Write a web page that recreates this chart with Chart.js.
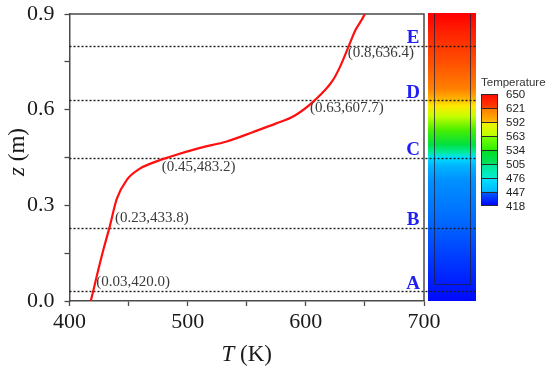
<!DOCTYPE html>
<html>
<head>
<meta charset="utf-8">
<script src="https://cdn.jsdelivr.net/npm/chart.js@4/dist/chart.umd.min.js"></script>
<style>
  html, body { margin: 0; padding: 0; background: #ffffff; }
  #wrap { width: 550px; height: 366px; position: relative; }
</style>
</head>
<body>
<div id="wrap"><canvas id="c" width="550" height="366"></canvas></div>
<script>
// ---- data ----
const heightZ = [0, 0.03, 0.08, 0.16, 0.23, 0.32, 0.38, 0.415, 0.43, 0.45, 0.48, 0.50, 0.53, 0.557, 0.58, 0.63, 0.69, 0.735, 0.80, 0.85, 0.88, 0.90];
const tempT   = [418, 420.0, 423.2, 428.6, 433.8, 440, 448.5, 459.5, 468, 483.2, 510.5, 533, 555.5, 575, 590, 607.7, 622.5, 629, 636.4, 642, 647, 650];

const markZ     = [0.03, 0.23, 0.45, 0.63, 0.8];
const markT     = [420.0, 433.8, 483.2, 607.7, 636.4];
const markNames = ['A', 'B', 'C', 'D', 'E'];

const xTicks      = [400, 450, 500, 550, 600, 650, 700];
const xTickLabels = ['400', '', '500', '', '600', '', '700'];
const yTicks      = [0, 0.15, 0.3, 0.45, 0.6, 0.75, 0.9];
const yTickLabels = ['0.0', '', '0.3', '', '0.6', '', '0.9'];

const legendTitle  = 'Temperature';
const legendLabels = ['650', '621', '592', '563', '534', '505', '476', '447', '418'];

const xTitleItalic = 'T', xTitleRest = ' (K)';
const yTitleItalic = 'z', yTitleRest = ' (m)';

// ---- styling (not data) ----
const SERIF = '"Liberation Serif", "Times New Roman", serif';
const SANS  = '"Liberation Sans", Arial, sans-serif';
// offsets of the coordinate notes from their curve point (px)
const noteOffsets = [[3, -9], [5.5, -10], [-6, 10], [-5, 8], [-1, 7.5]];

const barStops = [
  [0.00, '#ff0000'], [0.06, '#ff2000'], [0.17, '#ff5000'], [0.26, '#ff8000'],
  [0.29, '#ffaa00'], [0.32, '#ffe800'], [0.355, '#c8ff00'], [0.405, '#48ee00'],
  [0.455, '#00e040'], [0.483, '#00eaa0'], [0.50, '#00e0ff'], [0.53, '#00b4ff'],
  [0.58, '#0090ff'], [0.70, '#0070ff'], [0.86, '#0038ff'], [1.00, '#0008ff']
];
const swatchStops = [
  [0.000, '#ff0a00'], [0.120, '#ff3c00'], [0.125, '#ff7a00'], [0.245, '#ffb400'],
  [0.250, '#f4f000'], [0.370, '#c0ff00'], [0.375, '#80ff00'], [0.495, '#30f000'],
  [0.500, '#00e020'], [0.620, '#00e060'], [0.625, '#00e890'], [0.745, '#00ecd0'],
  [0.750, '#00e4ff'], [0.870, '#00b8ff'], [0.875, '#0060ff'], [1.000, '#0000ff']
];

const deco = {
  id: 'deco',
  beforeDatasetsDraw(chart) {
    const ctx = chart.ctx, a = chart.chartArea;
    const ys = chart.scales.y;
    const top = ys.getPixelForValue(0.9), bot = ys.getPixelForValue(0);
    const bx0 = a.right + 4, bx1 = a.right + 52;
    ctx.save();
    // colour bar
    const g = ctx.createLinearGradient(0, top, 0, bot);
    barStops.forEach(s => g.addColorStop(s[0], s[1]));
    ctx.fillStyle = g;
    ctx.fillRect(bx0, top - 1, bx1 - bx0, bot - top + 1);
    // inner frame in the bar
    ctx.strokeStyle = 'rgba(30,30,60,0.75)';
    ctx.lineWidth = 1;
    ctx.beginPath();
    ctx.moveTo(bx0 + 6.5, top); ctx.lineTo(bx0 + 6.5, bot - 16.5);
    ctx.lineTo(bx1 - 5.5, bot - 16.5); ctx.lineTo(bx1 - 5.5, top);
    ctx.stroke();
    // dotted level lines
    ctx.strokeStyle = '#1a1a1a';
    ctx.lineWidth = 1.4;
    ctx.setLineDash([2, 2]);
    markZ.forEach(z => {
      const y = Math.round(ys.getPixelForValue(z)) + 0.5;
      ctx.beginPath(); ctx.moveTo(a.left, y); ctx.lineTo(bx1, y); ctx.stroke();
    });
    ctx.setLineDash([]);
    // frame top and right
    ctx.strokeStyle = '#4a4a4a';
    ctx.lineWidth = 1.5;
    ctx.beginPath();
    ctx.moveTo(a.left, a.top); ctx.lineTo(a.right, a.top); ctx.lineTo(a.right, a.bottom);
    ctx.stroke();
    ctx.restore();
  },
  afterDraw(chart) {
    const ctx = chart.ctx, a = chart.chartArea;
    const xs = chart.scales.x, ys = chart.scales.y;
    ctx.save();
    // level letters
    ctx.fillStyle = '#2020f0';
    ctx.font = 'bold 19px ' + SERIF;
    ctx.textAlign = 'center';
    ctx.textBaseline = 'alphabetic';
    markZ.forEach((z, i) => {
      ctx.fillText(markNames[i], a.right - 11, ys.getPixelForValue(z) - 2.5);
    });
    // coordinate notes
    ctx.fillStyle = '#3a3a3a';
    ctx.font = '15px ' + SERIF;
    ctx.textAlign = 'left';
    ctx.textBaseline = 'middle';
    markZ.forEach((z, i) => {
      const px = xs.getPixelForValue(markT[i]), py = ys.getPixelForValue(z);
      const txt = '(' + String(z) + ',' + markT[i].toFixed(1) + ')';
      ctx.fillText(txt, px + noteOffsets[i][0], py + noteOffsets[i][1]);
    });
    // axis titles
    ctx.fillStyle = '#1a1a1a';
    ctx.textBaseline = 'middle';
    const fI = 'italic 23px ' + SERIF, fN = '23px ' + SERIF;
    ctx.font = fI; const wxi = ctx.measureText(xTitleItalic).width;
    ctx.font = fN; const wxr = ctx.measureText(xTitleRest).width;
    let cx = (a.left + a.right) / 2 - (wxi + wxr) / 2;
    ctx.textAlign = 'left';
    ctx.font = fI; ctx.fillText(xTitleItalic, cx, 355);
    ctx.font = fN; ctx.fillText(xTitleRest, cx + wxi, 355);
    ctx.font = fI; const wyi = ctx.measureText(yTitleItalic).width;
    ctx.font = fN; const wyr = ctx.measureText(yTitleRest).width;
    ctx.translate(18, 152);
    ctx.rotate(-Math.PI / 2);
    cx = -(wyi + wyr) / 2;
    ctx.font = fI; ctx.fillText(yTitleItalic, cx, 0);
    ctx.font = fN; ctx.fillText(yTitleRest, cx + wyi, 0);
    ctx.setTransform(1, 0, 0, 1, 0, 0);
    // legend inset
    ctx.fillStyle = '#333';
    ctx.font = '11.5px ' + SANS;
    ctx.textAlign = 'left';
    ctx.fillText(legendTitle, 481, 82.5);
    const sx = 481, sw = 17, sy = 94, sh = 112;
    const g = ctx.createLinearGradient(0, sy, 0, sy + sh);
    swatchStops.forEach(s => g.addColorStop(s[0], s[1]));
    ctx.fillStyle = g;
    ctx.fillRect(sx, sy, sw, sh);
    const n = legendLabels.length - 1;
    ctx.strokeStyle = '#2a2a2a';
    ctx.lineWidth = 1;
    for (let i = 1; i < n; i++) {
      const y = Math.round(sy + sh * i / n) + 0.5;
      ctx.beginPath(); ctx.moveTo(sx, y); ctx.lineTo(sx + sw, y); ctx.stroke();
    }
    ctx.strokeRect(sx + 0.5, sy + 0.5, sw - 1, sh - 1);
    ctx.fillStyle = '#222';
    legendLabels.forEach((t, i) => {
      ctx.fillText(t, 506, sy + 1 + sh * i / n);
    });
    ctx.restore();
  }
};

new Chart(document.getElementById('c'), {
  type: 'line',
  data: {
    datasets: [{
      data: tempT.map((t, i) => ({ x: t, y: heightZ[i] })),
      borderColor: '#ff1010',
      borderWidth: 2.2,
      pointRadius: 0,
      fill: false,
      cubicInterpolationMode: 'monotone'
    }]
  },
  options: {
    responsive: false,
    animation: false,
    events: [],
    layout: { padding: { left: 0, right: 126, top: 14, bottom: 0 } },
    plugins: { legend: { display: false }, tooltip: { enabled: false } },
    scales: {
      x: {
        type: 'linear', min: 400, max: 700,
        afterBuildTicks: s => { s.ticks = xTicks.map(v => ({ value: v })); },
        afterFit: s => { s.height = 65; s.paddingLeft = 0; s.paddingRight = 0; },
        ticks: {
          callback: (v, i) => xTickLabels[i],
          font: { family: SERIF, size: 22 }, color: '#1a1a1a', padding: 3, maxRotation: 0, autoSkip: false
        },
        grid: { drawOnChartArea: false, drawTicks: true, tickLength: 5, color: '#4a4a4a', tickWidth: 1.3 },
        border: { display: true, color: '#4a4a4a', width: 1.5 }
      },
      y: {
        type: 'linear', min: 0, max: 0.9,
        afterBuildTicks: s => { s.ticks = yTicks.map(v => ({ value: v })); },
        afterFit: s => { s.width = 69.5; s.paddingTop = 0; s.paddingBottom = 0; },
        ticks: {
          callback: (v, i) => yTickLabels[i],
          font: { family: SERIF, size: 22 }, color: '#1a1a1a', padding: 10, autoSkip: false
        },
        grid: { drawOnChartArea: false, drawTicks: true, tickLength: 5, color: '#4a4a4a', tickWidth: 1.3 },
        border: { display: true, color: '#4a4a4a', width: 1.5 }
      }
    }
  },
  plugins: [deco]
});
</script>
</body>
</html>
